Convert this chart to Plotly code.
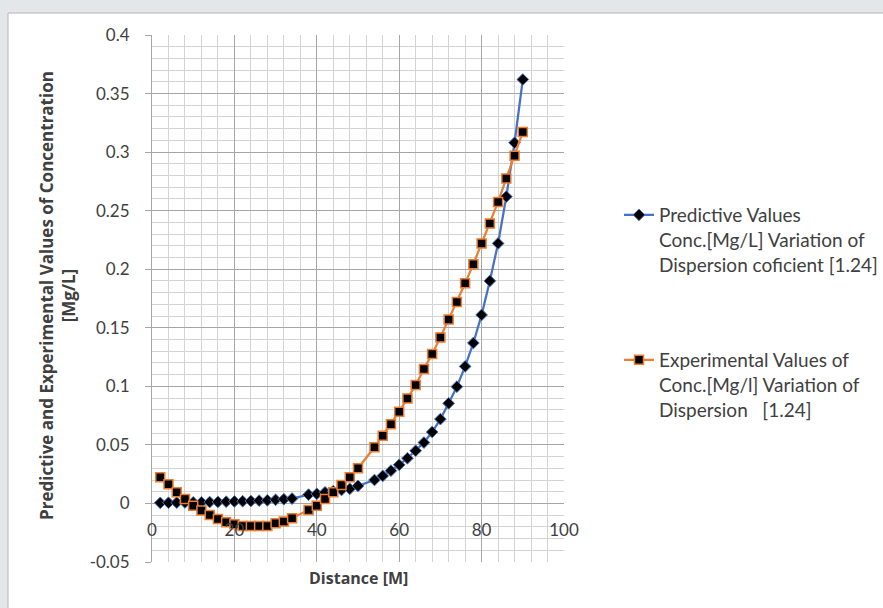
import plotly.graph_objects as go

# ---- data ----
distance = [2, 4, 6, 8, 10, 12, 14, 16, 18, 20, 22, 24, 26, 28, 30, 32, 34,
            38, 40, 42, 44, 46, 48, 50,
            54, 56, 58, 60, 62, 64, 66, 68, 70, 72, 74, 76, 78, 80, 82, 84, 86, 88, 90]
predictive = [0.0005, 0.0006, 0.0007, 0.0008, 0.0009, 0.001, 0.0012, 0.0013, 0.0015,
              0.0017, 0.0019, 0.0021, 0.0024, 0.0027, 0.0031, 0.0036, 0.0042,
              0.0075, 0.0082, 0.0095, 0.0105, 0.0115, 0.0125, 0.015,
              0.020, 0.0235, 0.028, 0.033, 0.0386, 0.045, 0.052, 0.061, 0.072, 0.0855,
              0.0997, 0.117, 0.137, 0.161, 0.190, 0.222, 0.262, 0.308, 0.362]
experimental = [0.0224, 0.0164, 0.0096, 0.0038, -0.0019, -0.0061, -0.0098, -0.0132, -0.016,
                -0.0178, -0.0192, -0.0192, -0.0192, -0.0192, -0.0169, -0.0155, -0.0127,
                -0.0055, -0.0019, 0.0038, 0.0096, 0.0158, 0.0224, 0.030,
                0.048, 0.0578, 0.0676, 0.0784, 0.0897, 0.1011, 0.1148, 0.1276, 0.1418, 0.157,
                0.172, 0.188, 0.2043, 0.222, 0.239, 0.2575, 0.2775, 0.2968, 0.3172]
x_ticks = [0, 20, 40, 60, 80, 100]
y_ticks = [-0.05, 0, 0.05, 0.1, 0.15, 0.2, 0.25, 0.3, 0.35, 0.4]
y_tick_labels = ["-0.05", "0", "0.05", "0.1", "0.15", "0.2", "0.25", "0.3", "0.35", "0.4"]
name_pred = "Predictive Values<br>Conc.[Mg/L] Variation of<br>Dispersion coficient [1.24]"
name_exp = "Experimental Values of<br>Conc.[Mg/l] Variation of<br>Dispersion&nbsp;&nbsp; [1.24]"

FONT = "Lato"
TITLE_FONT = "Open Sans"
W, H = 883, 608
L, R, T, B = 152, W - 564, 35, H - 562
PW, PH = W - L - R, H - T - B

def px(xp):
    return (xp - L) / PW

def py(yp):
    return 1 - (yp - T) / PH

fig = go.Figure()
fig.add_trace(go.Scatter(
    x=distance, y=predictive, mode="lines+markers", name=name_pred,
    line=dict(color="#4472C4", width=2.25),
    marker=dict(symbol="diamond", size=9, color="black", line=dict(color="#4472C4", width=1)),
    legend="legend"))
fig.add_trace(go.Scatter(
    x=distance, y=experimental, mode="lines+markers", name=name_exp,
    line=dict(color="#ED7D31", width=2.25),
    marker=dict(symbol="square", size=9, color="black", line=dict(color="#ED7D31", width=1.5)),
    legend="legend2"))

major = "#a6a6a6"
minor = "#d3d3d3"
fig.update_layout(
    width=W, height=H,
    margin=dict(l=L, r=R, t=T, b=B, autoexpand=False),
    paper_bgcolor="#e3e7e9",
    plot_bgcolor="white",
    font=dict(family=FONT, size=17, color="#404040"),
    xaxis=dict(
        range=[0, 100], tickvals=x_ticks, ticktext=[str(v) for v in x_ticks],
        showgrid=True, gridcolor=major, gridwidth=1,
        minor=dict(dtick=4, showgrid=True, gridcolor=minor, gridwidth=1),
        zeroline=False, showline=False, ticks="",
        anchor="free", position=(0 - (-0.05)) / 0.45,
        ticklabelstandoff=15,
        tickfont=dict(family=FONT, size=17, color="#404040"),
    ),
    yaxis=dict(
        range=[-0.05, 0.4], tickvals=y_ticks, ticktext=y_tick_labels,
        showgrid=True, gridcolor=major, gridwidth=1,
        minor=dict(dtick=0.01, showgrid=True, gridcolor=minor, gridwidth=1),
        zeroline=False, showline=True, linecolor=major, linewidth=1,
        ticks="outside", ticklen=6, tickcolor=major,
        ticklabelstandoff=12,
        tickfont=dict(family=FONT, size=17, color="#404040"),
    ),
    legend=dict(x=px(619), y=py(196), xanchor="left", yanchor="top",
                bgcolor="rgba(0,0,0,0)", valign="top",
                font=dict(family=FONT, size=19, color="#404040")),
    legend2=dict(x=px(619), y=py(341), xanchor="left", yanchor="top",
                 bgcolor="rgba(0,0,0,0)", valign="top",
                 font=dict(family=FONT, size=19, color="#404040")),
    shapes=[dict(type="rect", xref="paper", yref="paper",
                 x0=px(8), x1=px(W + 20), y0=py(H + 20), y1=py(13),
                 fillcolor="white", line=dict(color="#b4b4b4", width=1), layer="below")],
    annotations=[
        dict(text="<b>Predictive and Experimental Values of Concentration<br>[Mg/L]</b>",
             xref="paper", yref="paper", x=px(57), y=py(296), textangle=-90,
             showarrow=False, xanchor="center", yanchor="middle",
             font=dict(family=TITLE_FONT, size=17, color="#404040")),
        dict(text="<b>Distance [M]</b>", xref="paper", yref="paper",
             x=px(358), y=py(578), showarrow=False, xanchor="center", yanchor="middle",
             font=dict(family=TITLE_FONT, size=16, color="#404040")),
    ],
    showlegend=True,
)

fig.write_html(
    "out.html",
    config={"displayModeBar": False},
    post_script="document.body.style.margin='0';document.body.style.overflow='hidden';",
)
